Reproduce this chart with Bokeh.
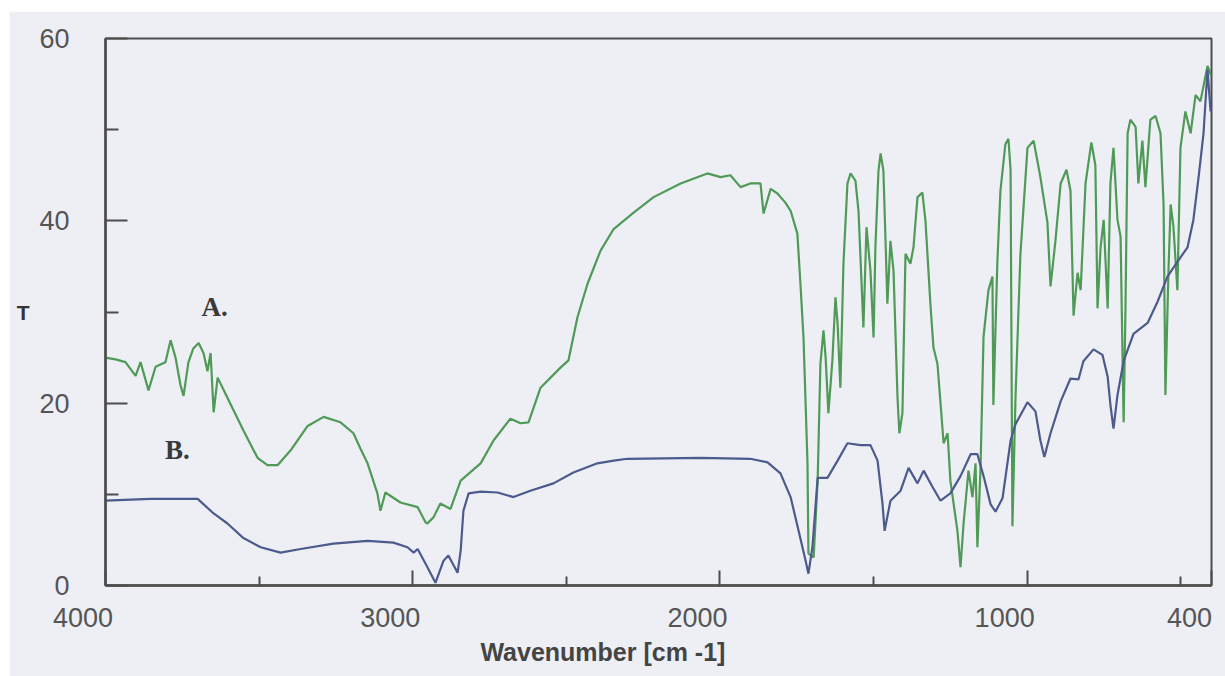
from bokeh.plotting import figure
from bokeh.models import FixedTicker, Range1d, ColumnDataSource, Title
from bokeh.core.properties import value
from bokeh.embed import file_html
from bokeh.resources import INLINE

# ---------------- data ----------------
x_ticks = [4000, 3000, 2000, 1000, 400]
x_tick_labels = ["4000", "3000", "2000", "1000", "400"]
x_minor = [3500, 2500, 1500, 500]
y_ticks = [0, 20, 40, 60]
y_minor = [10, 30, 50]

wn_a = [4000, 3967, 3935, 3902, 3886, 3860, 3837, 3805, 3788, 3772, 3756, 3746,
        3730, 3714, 3697, 3681, 3668, 3658, 3648, 3635, 3609, 3583, 3551, 3528,
        3505, 3473, 3440, 3398, 3342, 3290, 3235, 3193, 3170, 3147, 3115, 3105,
        3089, 3040, 2984, 2958, 2952, 2932, 2910, 2877, 2844, 2779, 2737, 2682,
        2649, 2623, 2584, 2519, 2493, 2464, 2431, 2389, 2346, 2281, 2216, 2128,
        2041, 1998, 1966, 1933, 1901, 1868, 1858, 1835, 1813, 1787, 1770, 1748,
        1738, 1728, 1715, 1712, 1695, 1682, 1673, 1663, 1656, 1647, 1634, 1624,
        1617, 1608, 1598, 1585, 1575, 1559, 1549, 1533, 1523, 1510, 1500, 1494,
        1484, 1477, 1468, 1461, 1455, 1445, 1435, 1422, 1416, 1406, 1396, 1380,
        1370, 1357, 1341, 1331, 1315, 1305, 1292, 1282, 1272, 1259, 1250, 1227,
        1217, 1207, 1191, 1178, 1168, 1162, 1152, 1142, 1126, 1113, 1110, 1097,
        1087, 1071, 1061, 1054, 1048, 1038, 1022, 999, 979, 957, 934, 924,
        908, 891, 872, 859, 849, 836, 826, 810, 791, 778, 771, 761,
        751, 738, 729, 719, 706, 696, 686, 680, 673, 664, 647, 638,
        625, 615, 599, 582, 566, 556, 550, 540, 533, 524, 511, 501,
        485, 468, 452, 436, 413, 400]
t_a = [25.0, 24.8, 24.5, 23.0, 24.5, 21.4, 24.0, 24.5, 26.9, 25.0, 22.0, 20.8,
       24.5, 26.0, 26.6, 25.5, 23.5, 25.5, 19.0, 22.8, 21.0, 19.2, 17.0, 15.5,
       14.0, 13.2, 13.2, 14.8, 17.5, 18.5, 17.9, 16.7, 15.0, 13.4, 10.1, 8.2,
       10.2, 9.1, 8.6, 6.9, 6.8, 7.5, 9.0, 8.4, 11.5, 13.4, 15.9, 18.3,
       17.8, 17.9, 21.7, 23.9, 24.7, 29.4, 33.1, 36.7, 39.1, 40.9, 42.6, 44.1,
       45.2, 44.8, 45.0, 43.7, 44.1, 44.1, 40.8, 43.5, 43.0, 42.0, 41.1, 38.6,
       33.1, 27.2, 13.4, 3.5, 3.1, 11.5, 24.3, 28.0, 25.0, 18.9, 24.7, 31.6,
       28.7, 21.7, 35.3, 44.1, 45.2, 44.4, 41.1, 28.3, 39.3, 34.5, 27.2, 37.1,
       45.5, 47.4, 45.5, 37.8, 30.9, 37.8, 34.5, 20.6, 16.7, 18.9, 36.4, 35.3,
       37.1, 42.6, 43.1, 40.0, 30.9, 26.1, 24.3, 20.0, 15.6, 16.7, 11.5, 6.0,
       2.0, 6.8, 12.6, 9.7, 13.4, 4.2, 12.7, 27.3, 32.4, 33.9, 19.8, 35.5,
       43.3, 48.4, 49.0, 45.6, 6.5, 20.6, 36.3, 48.0, 48.8, 44.8, 39.8, 32.8,
       37.8, 44.1, 45.6, 43.3, 29.6, 34.3, 32.4, 44.1, 48.6, 46.1, 30.4, 37.1,
       40.1, 30.4, 44.1, 48.0, 40.1, 38.3, 17.9, 30.4, 49.6, 51.1, 50.3, 44.1,
       48.8, 43.7, 51.1, 51.5, 49.6, 41.8, 20.9, 34.6, 41.8, 39.4, 32.4, 48.0,
       52.0, 49.6, 53.8, 53.1, 57.0, 55.8]

wn_b = [4000, 3854, 3700, 3648, 3603, 3551, 3495, 3430, 3365, 3258, 3147, 3063,
        3017, 2997, 2984, 2952, 2926, 2900, 2884, 2854, 2844, 2835, 2818, 2779,
        2724, 2672, 2617, 2542, 2477, 2399, 2346, 2301, 2063, 1901, 1845, 1803,
        1770, 1744, 1721, 1712, 1699, 1682, 1650, 1617, 1585, 1542, 1510, 1487,
        1471, 1464, 1445, 1412, 1386, 1357, 1337, 1308, 1282, 1250, 1217, 1184,
        1162, 1142, 1119, 1103, 1080, 1054, 1038, 999, 973, 957, 944, 924,
        891, 859, 833, 817, 784, 755, 738, 729, 719, 706, 686, 654,
        608, 576, 543, 511, 478, 459, 442, 426, 413, 403]
t_b = [9.3, 9.5, 9.5, 7.9, 6.8, 5.2, 4.2, 3.6, 4.0, 4.6, 4.9, 4.7,
       4.2, 3.6, 4.0, 2.0, 0.3, 2.7, 3.3, 1.4, 3.8, 8.2, 10.1, 10.3,
       10.2, 9.7, 10.4, 11.2, 12.4, 13.4, 13.7, 13.9, 14.0, 13.9, 13.5, 12.3,
       9.7, 6.0, 2.7, 1.3, 4.2, 11.8, 11.8, 13.7, 15.6, 15.4, 15.4, 13.7,
       9.0, 6.0, 9.3, 10.4, 12.9, 11.2, 12.6, 10.8, 9.3, 10.1, 12.0, 14.4,
       14.4, 12.0, 8.9, 8.1, 9.6, 15.9, 17.7, 20.1, 19.1, 15.9, 14.1, 16.7,
       20.2, 22.7, 22.6, 24.6, 25.9, 25.3, 22.9, 19.8, 17.2, 20.9, 24.6, 27.6,
       28.8, 31.1, 33.9, 35.5, 37.1, 40.1, 44.8, 49.6, 56.6, 52.0]

series_labels = ["A.", "B."]
label_wn = [3645, 3766]
label_t = [30.5, 14.9]

# ---------------- figure ----------------
BG = "#edeff5"
AX = "#4d4d4d"

p = figure(width=1216, height=665, output_backend="svg", toolbar_location=None,
           x_range=Range1d(4000, 400), y_range=Range1d(0, 60),
           min_border_left=96, min_border_right=14, min_border_top=27,
           min_border_bottom=91, margin=(11, 0, 0, 9),
           background_fill_color=BG, border_fill_color=BG)
p.grid.visible = False
p.outline_line_color = AX
p.outline_line_width = 2

p.line(wn_a, t_a, line_color="#4f9a57", line_width=2.2)
p.line(wn_b, t_b, line_color="#4c5a8c", line_width=2.2)

src = ColumnDataSource(dict(x=label_wn, y=label_t, t=series_labels))
p.text("x", "y", text="t", source=src, text_font=value("Liberation Serif"),
       text_font_style="bold", text_font_size="27px", text_color="#3a3a3a",
       text_align="center", text_baseline="middle")

xa = p.xaxis[0]
xa.ticker = FixedTicker(ticks=x_ticks, minor_ticks=x_minor)
# labels in the original sit slightly left of their ticks: pad with figure spaces
pads = ["\u2007\u2007\u2007"] * 4 + ["\u2002"]
xa.major_label_overrides = {t: s + pad for t, s, pad in zip(x_ticks, x_tick_labels, pads)}
xa.axis_line_color = AX
xa.axis_line_width = 2.5
xa.major_tick_line_color = AX
xa.minor_tick_line_color = AX
xa.major_tick_line_width = 2
xa.minor_tick_line_width = 2
xa.major_tick_in = 15
xa.major_tick_out = 0
xa.minor_tick_in = 9
xa.minor_tick_out = 0
xa.major_label_text_font = "Liberation Sans"
xa.major_label_text_font_size = "27px"
xa.major_label_text_color = "#555555"
xa.major_label_standoff = 17

ya = p.yaxis[0]
ya.ticker = FixedTicker(ticks=y_ticks, minor_ticks=y_minor)
ya.axis_line_color = AX
ya.axis_line_width = 2.5
ya.major_tick_line_color = AX
ya.minor_tick_line_color = AX
ya.major_tick_line_width = 2
ya.minor_tick_line_width = 2
ya.major_tick_in = 22
ya.major_tick_out = 0
ya.minor_tick_in = 13
ya.minor_tick_out = 0
ya.major_label_text_font = "Liberation Sans"
ya.major_label_text_font_size = "27px"
ya.major_label_text_color = "#555555"
ya.major_label_standoff = 36
ya.axis_label = "T"
ya.axis_label_text_font = "Liberation Sans"
ya.axis_label_text_font_style = "bold"
ya.axis_label_text_font_size = "21px"
ya.axis_label_text_color = "#333333"
ya.axis_label_standoff = 7
try:
    ya.axis_label_orientation = "horizontal"
except Exception:
    pass

# the original's axis title sits left of the frame centre: pad with figure spaces
p.add_layout(Title(text="Wavenumber [cm -1]" + "\u2007" * 8, align="center",
                   standoff=0, text_font="Liberation Sans",
                   text_font_style="bold", text_font_size="25px",
                   text_color="#444444"), "below")

open("out.html", "w").write(file_html(p, INLINE))
